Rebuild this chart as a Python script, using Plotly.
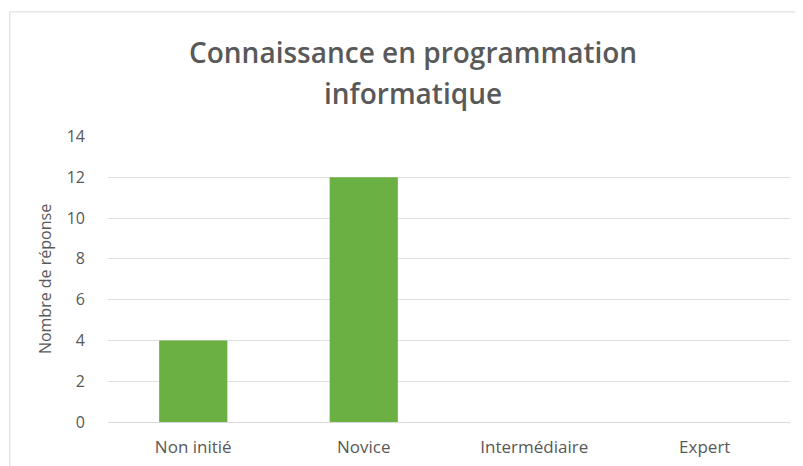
import plotly.graph_objects as go

categories = ["Non initié", "Novice", "Intermédiaire", "Expert"]
responses = [4, 12, 0, 0]
title_lines = ["Connaissance en programmation", "informatique"]

fig = go.Figure()
fig.add_trace(go.Bar(
    x=categories,
    y=responses,
    marker=dict(color="#6AB043", line=dict(width=0)),
))

# page body has an 8px margin, so offsets are compensated here
fig.update_layout(
    width=803, height=466,
    paper_bgcolor="white", plot_bgcolor="white",
    margin=dict(l=100, r=21, t=128, b=52),
    bargap=0.6,
    showlegend=False,
    font=dict(family="Open Sans", color="#595959", size=17),
    xaxis=dict(
        automargin=False,
        showgrid=False, showline=True, linecolor="#d9d9d9", linewidth=1,
        ticks="", ticklabelstandoff=10, tickfont=dict(size=17, color="#595959"),
    ),
    yaxis=dict(
        automargin=False,
        range=[0, 14.02], tickvals=[0, 2, 4, 6, 8, 10, 12, 14],
        showgrid=True, gridcolor="#e0e0e0",
        zeroline=False, showline=False, ticks="", ticklabelstandoff=22,
        tickfont=dict(size=16, color="#595959"),
        title=dict(text="Nombre de réponse", font=dict(size=16, color="#595959"), standoff=11),
    ),
)

for i, line in enumerate(title_lines):
    fig.add_annotation(
        text=line, xref="paper", yref="paper", showarrow=False,
        x=0.447, y=(422 - 52 - 41 * i) / 286, xanchor="center", yanchor="middle",
        font=dict(family="Open Sans", size=28, color="#595959", weight=600),
    )

fig.add_shape(type="rect", xref="paper", yref="paper",
              x0=-0.144, x1=1.2, y0=-0.3, y1=1.434,
              line=dict(color="#d9d9d9", width=1), layer="below")

fig.write_html("out.html")
